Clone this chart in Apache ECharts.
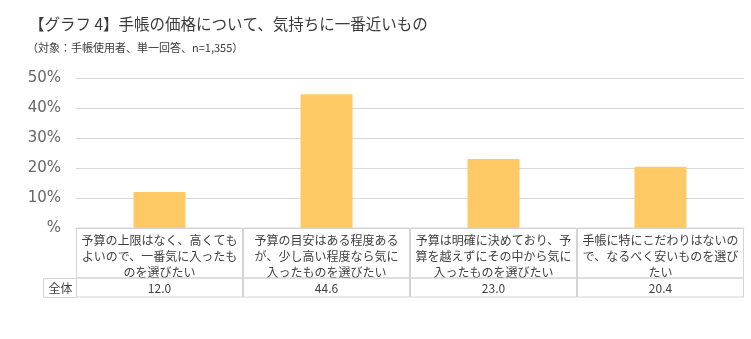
<!DOCTYPE html>
<html>
<head>
<meta charset="utf-8">
<script src="https://cdn.jsdelivr.net/npm/echarts@6/dist/echarts.min.js"></script>
<style>
  html, body { margin: 0; padding: 0; background: #fff; }
  #chart { width: 751px; height: 339px; }
</style>
</head>
<body>
<div id="chart"></div>
<script>
// Survey: how diary users feel about the price of their diary
const titleText = '【グラフ 4】手帳の価格について、気持ちに一番近いもの';
const subText = '（対象：手帳使用者、単一回答、n=1,355）';
const categories = [
  '予算の上限はなく、高くても\nよいので、一番気に入ったも\nのを選びたい',
  '予算の目安はある程度ある\nが、少し高い程度なら気に\n入ったものを選びたい',
  '予算は明確に決めており、予\n算を越えずにその中から気に\n入ったものを選びたい',
  '手帳に特にこだわりはないの\nで、なるべく安いものを選び\nたい'
];
const values = [12.0, 44.6, 23.0, 20.4];
const rowLabel = '全体';
const yTicks = [0, 10, 20, 30, 40, 50];

const JP = '"Noto Sans CJK JP", "Noto Sans", sans-serif';
const borderColor = '#d4d4d4';
const textColor = '#404040';

const chart = echarts.init(document.getElementById('chart'), null, { renderer: 'canvas' });

chart.setOption({
  backgroundColor: '#ffffff',
  animation: false,
  title: [
    {
      text: titleText,
      left: 24, top: 11,
      textStyle: { fontFamily: JP, fontSize: 15.5, fontWeight: 'normal', color: '#3a3a3a' }
    },
    {
      text: subText,
      left: 22, top: 37,
      textStyle: { fontFamily: JP, fontSize: 11, fontWeight: 'normal', color: '#3a3a3a' }
    }
  ],
  grid: { left: 76, right: 7, top: 78, bottom: 111, containLabel: false },
  xAxis: [
    {
      type: 'category',
      data: categories,
      position: 'bottom',
      axisLine: { show: true, lineStyle: { color: borderColor, width: 1 } },
      axisTick: { show: false },
      axisLabel: {
        interval: 0,
        margin: 0,
        width: 166,
        height: 46,
        padding: [4, 0, 0, 0],
        lineHeight: 16,
        align: 'center',
        verticalAlign: 'top',
        borderColor: borderColor,
        borderWidth: 1,
        fontFamily: JP,
        fontSize: 12,
        color: textColor
      }
    },
    {
      type: 'category',
      data: values.map(v => v.toFixed(1)),
      position: 'bottom',
      offset: 50,
      axisLine: { show: false },
      axisTick: { show: false },
      axisLabel: {
        interval: 0,
        margin: 0,
        width: 166,
        height: 18,
        padding: [1, 0, 0, 0],
        lineHeight: 18,
        align: 'center',
        verticalAlign: 'top',
        borderColor: borderColor,
        borderWidth: 1,
        fontFamily: JP,
        fontSize: 12,
        color: textColor
      }
    }
  ],
  yAxis: {
    type: 'value',
    min: yTicks[0],
    max: yTicks[yTicks.length - 1],
    interval: 10,
    axisLine: { show: false },
    axisTick: { show: false },
    splitLine: { lineStyle: { color: '#d9d9d9', width: 1 } },
    axisLabel: {
      margin: 15,
      padding: [4, 0, 0, 0],
      fontFamily: '"DejaVu Sans", sans-serif',
      fontSize: 15,
      color: '#666666',
      formatter: v => (v === 0 ? '%' : v + '%')
    }
  },
  series: [
    {
      type: 'bar',
      data: values,
      barWidth: 52,
      itemStyle: { color: '#FFCA65' },
      silent: true
    }
  ],
  graphic: [
    {
      type: 'group',
      left: 43, top: 278,
      children: [
        {
          type: 'rect',
          shape: { x: 0, y: 0, width: 33, height: 19 },
          style: { fill: '#fff', stroke: borderColor, lineWidth: 1 }
        },
        {
          type: 'text',
          x: 5, y: 10,
          style: {
            text: rowLabel,
            font: '12px ' + JP,
            fill: textColor,
            verticalAlign: 'middle'
          }
        }
      ]
    }
  ]
});
</script>
</body>
</html>
